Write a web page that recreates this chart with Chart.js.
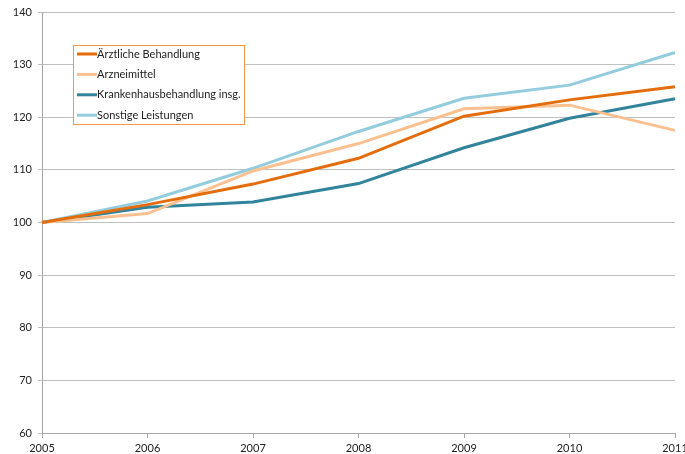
<!DOCTYPE html>
<html><head><meta charset="utf-8">
<script src="https://cdn.jsdelivr.net/npm/chart.js@4.4.0/dist/chart.umd.min.js"></script>
<style>html,body{margin:0;padding:0;background:#fff}#wrap{width:685px;height:454px}</style>
</head><body><div id="wrap"><canvas id="c" width="685" height="454"></canvas></div>
<script>
const years = ['2005','2006','2007','2008','2009','2010','2011'];
const aerztlicheBehandlung = [100, 103.4, 107.3, 112.2, 120.2, 123.3, 125.8];
const arzneimittel = [100, 101.7, 109.8, 115.0, 121.6, 122.3, 117.5];
const krankenhausbehandlung = [100, 102.9, 103.9, 107.4, 114.2, 119.8, 123.5];
const sonstigeLeistungen = [100, 104.1, 110.3, 117.3, 123.6, 126.1, 132.3];
const seriesLabels = ['Ärztliche Behandlung','Arzneimittel','Krankenhausbehandlung insg.','Sonstige Leistungen'];
const yTicks = [60,70,80,90,100,110,120,130,140];

const colors = ['#E46C0A','#FAC090','#31849B','#93CDDD'];
const FONT = 'Lato, "Liberation Sans", sans-serif';

const legendBox = {
  id: 'legendBox',
  afterDraw(chart) {
    const ctx = chart.ctx;
    const x0 = 73, y0 = 45, w = 171, h = 79;
    ctx.save();
    ctx.fillStyle = '#fff';
    ctx.fillRect(x0, y0, w, h);
    ctx.strokeStyle = '#F79646';
    ctx.lineWidth = 1;
    ctx.strokeRect(x0 + 0.5, y0 + 0.5, w, h);
    ctx.font = '11px ' + FONT;
    ctx.textBaseline = 'middle';
    chart.data.datasets.forEach((ds, i) => {
      const yy = 54 + i * 20.4;
      ctx.strokeStyle = ds.borderColor;
      ctx.lineWidth = 3;
      ctx.beginPath();
      ctx.moveTo(77, yy);
      ctx.lineTo(97, yy);
      ctx.stroke();
      ctx.fillStyle = '#222';
      ctx.fillText(ds.label, 97, yy);
    });
    ctx.restore();
  }
};

const mk = (label, data, i) => ({
  label, data, borderColor: colors[i], backgroundColor: colors[i],
  borderWidth: 3, pointRadius: 0, tension: 0, fill: false
});

new Chart(document.getElementById('c'), {
  type: 'line',
  data: {
    labels: years,
    datasets: [
      mk(seriesLabels[0], aerztlicheBehandlung, 0),
      mk(seriesLabels[1], arzneimittel, 1),
      mk(seriesLabels[2], krankenhausbehandlung, 2),
      mk(seriesLabels[3], sonstigeLeistungen, 3)
    ]
  },
  options: {
    responsive: false,
    animation: false,
    layout: { padding: { top: 12, right: 10, left: 0, bottom: 0 } },
    plugins: { legend: { display: false }, tooltip: { enabled: false } },
    scales: {
      x: {
        type: 'category',
        offset: false,
        grid: { display: true, drawOnChartArea: false, drawTicks: true, tickLength: 5, color: '#A6A6A6' },
        border: { display: true, color: '#A6A6A6', width: 1 },
        ticks: { color: '#222', font: { family: FONT, size: 11 }, padding: 4, maxRotation: 0, autoSkip: false },
        afterFit(s) { s.height = 21; s.paddingLeft = 0; s.paddingRight = 0; }
      },
      y: {
        min: 60, max: 140,
        afterBuildTicks(s) { s.ticks = yTicks.map(v => ({ value: v })); },
        grid: { color: '#BFBFBF', lineWidth: 1, drawTicks: true, tickLength: 4 },
        border: { display: true, color: '#A6A6A6', width: 1 },
        ticks: { color: '#222', font: { family: FONT, size: 11 }, padding: 6 },
        afterFit(s) { s.width = 42; s.paddingTop = 0; s.paddingBottom = 0; }
      }
    }
  },
  plugins: [legendBox]
});
</script>
</body></html>
